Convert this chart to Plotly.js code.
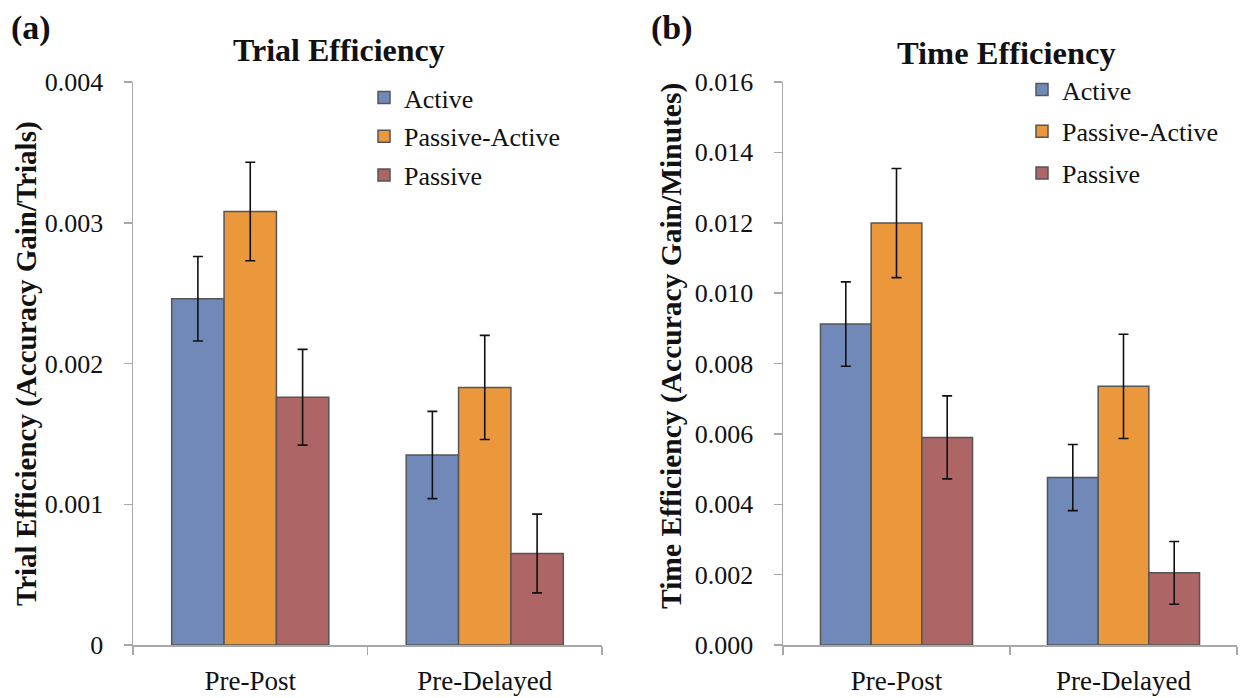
<!DOCTYPE html>
<html>
<head>
<meta charset="utf-8">
<script src="https://cdn.plot.ly/plotly-3.0.1.min.js"></script>
<style>html,body{margin:0;padding:0;background:#fff;}#chart{width:1241px;height:698px;}</style>
</head>
<body>
<div id="chart"></div>
<script>
// ---- data ----
const categories = ["Pre-Post", "Pre-Delayed"];
const seriesNames = ["Active", "Passive-Active", "Passive"];

const trialActive = [0.00246, 0.00135];
const trialPassiveActive = [0.00308, 0.00183];
const trialPassive = [0.00176, 0.00065];
const trialActiveErr = [0.00030, 0.00031];
const trialPassiveActiveErr = [0.00035, 0.00037];
const trialPassiveErr = [0.00034, 0.00028];

const timeActive = [0.00912, 0.00476];
const timePassiveActive = [0.01199, 0.00735];
const timePassive = [0.00590, 0.00205];
const timeActiveErr = [0.00120, 0.00094];
const timePassiveActiveErr = [0.00155, 0.00148];
const timePassiveErr = [0.00118, 0.00089];

const trialTicks = [0, 0.001, 0.002, 0.003, 0.004];
const trialTickText = ["0", "0.001", "0.002", "0.003", "0.004"];
const timeTicks = [0, 0.002, 0.004, 0.006, 0.008, 0.010, 0.012, 0.014, 0.016];
const timeTickText = ["0.000", "0.002", "0.004", "0.006", "0.008", "0.010", "0.012", "0.014", "0.016"];

// ---- styles ----
const colors = ["#7189B8", "#EB973B", "#AD6566"];
const FONT = "Liberation Serif";
const W = 1241, H = 698;
const px = v => v / W;
const py = v => 1 - v / H;

function barTrace(name, x, y, err, color, xa, ya, legend, idx) {
  return {
    type: "bar", name: name, x: x, y: y,
    xaxis: xa, yaxis: ya, legend: legend,
    legendgroup: legend + "_" + idx,
    marker: {color: color, line: {color: "#555555", width: 1.5}},
    error_y: {type: "data", array: err, visible: true, color: "#111", thickness: 1.6, width: 5},
    hoverinfo: "skip"
  };
}

const trialVals = [trialActive, trialPassiveActive, trialPassive];
const trialErrs = [trialActiveErr, trialPassiveActiveErr, trialPassiveErr];
const timeVals = [timeActive, timePassiveActive, timePassive];
const timeErrs = [timeActiveErr, timePassiveActiveErr, timePassiveErr];

const data = [];
seriesNames.forEach((n, i) => data.push(barTrace(n, categories, trialVals[i], trialErrs[i], colors[i], "x", "y", "legend", i)));
seriesNames.forEach((n, i) => data.push(barTrace(n, categories, timeVals[i], timeErrs[i], colors[i], "x2", "y2", "legend2", i)));

const axisGray = "#a8a8a8";
function xAxis(domain, anchor) {
  return {
    domain: domain, anchor: anchor, type: "category",
    showline: true, linecolor: axisGray, linewidth: 1.5,
    ticks: "outside", tickson: "boundaries", ticklen: 8, tickcolor: axisGray, tickwidth: 1.5,
    showgrid: false, zeroline: false,
    tickfont: {family: FONT, size: 27, color: "#111"},
    ticklabelstandoff: 11, fixedrange: true
  };
}
function yAxis(domain, anchor, range, vals, text) {
  return {
    domain: domain, anchor: anchor, range: range,
    tickmode: "array", tickvals: vals, ticktext: text,
    showline: true, linecolor: axisGray, linewidth: 1.5,
    ticks: "outside", ticklen: 8, tickcolor: axisGray, tickwidth: 1.5,
    showgrid: false, zeroline: false,
    tickfont: {family: FONT, size: 26, color: "#111"},
    ticklabelstandoff: 15, fixedrange: true
  };
}

const yDom = [py(645), py(82)];

const legendCommon = {
  font: {family: FONT, size: 26, color: "#111"},
  bgcolor: "rgba(0,0,0,0)", borderwidth: 0,
  xanchor: "left", yanchor: "top", traceorder: "grouped",
  itemclick: false, itemdoubleclick: false
};

const layout = {
  width: W, height: H,
  font: {family: FONT, color: "#111"},
  margin: {l: 0, r: 0, t: 0, b: 0},
  paper_bgcolor: "#fff", plot_bgcolor: "#fff",
  barmode: "group", bargap: 0.33, bargroupgap: 0,
  showlegend: true,
  xaxis: xAxis([px(133), px(602)], "y"),
  yaxis: yAxis(yDom, "x", [0, 0.004], trialTicks, trialTickText),
  xaxis2: xAxis([px(783), px(1237)], "y2"),
  yaxis2: yAxis(yDom, "x2", [0, 0.016], timeTicks, timeTickText),
  legend: Object.assign({}, legendCommon, {x: px(364), y: py(74), tracegroupgap: 2}),
  legend2: Object.assign({}, legendCommon, {x: px(1022), y: py(66), tracegroupgap: 5}),
  annotations: [
    {text: "<b>(a)</b>", x: px(31), y: py(28), xref: "paper", yref: "paper", showarrow: false,
     xanchor: "center", yanchor: "middle", font: {family: FONT, size: 34, color: "#111"}},
    {text: "<b>(b)</b>", x: px(672), y: py(28), xref: "paper", yref: "paper", showarrow: false,
     xanchor: "center", yanchor: "middle", font: {family: FONT, size: 34, color: "#111"}},
    {text: "<b>Trial Efficiency</b>", x: px(339), y: py(50), xref: "paper", yref: "paper", showarrow: false,
     xanchor: "center", yanchor: "middle", font: {family: FONT, size: 32, color: "#111"}},
    {text: "<b>Time Efficiency</b>", x: px(1006), y: py(53), xref: "paper", yref: "paper", showarrow: false,
     xanchor: "center", yanchor: "middle", font: {family: FONT, size: 32.5, color: "#111"}},
    {text: "<b>Trial Efficiency (Accuracy Gain/Trials)</b>", x: px(27), y: py(364), xref: "paper", yref: "paper",
     showarrow: false, textangle: -90, xanchor: "center", yanchor: "middle",
     font: {family: FONT, size: 29, color: "#111"}},
    {text: "<b>Time Efficiency (Accuracy Gain/Minutes)</b>", x: px(671), y: py(346), xref: "paper", yref: "paper",
     showarrow: false, textangle: -90, xanchor: "center", yanchor: "middle",
     font: {family: FONT, size: 29.5, color: "#111"}}
  ]
};

Plotly.newPlot("chart", data, layout, {staticPlot: true, displayModeBar: false});
</script>
</body>
</html>
